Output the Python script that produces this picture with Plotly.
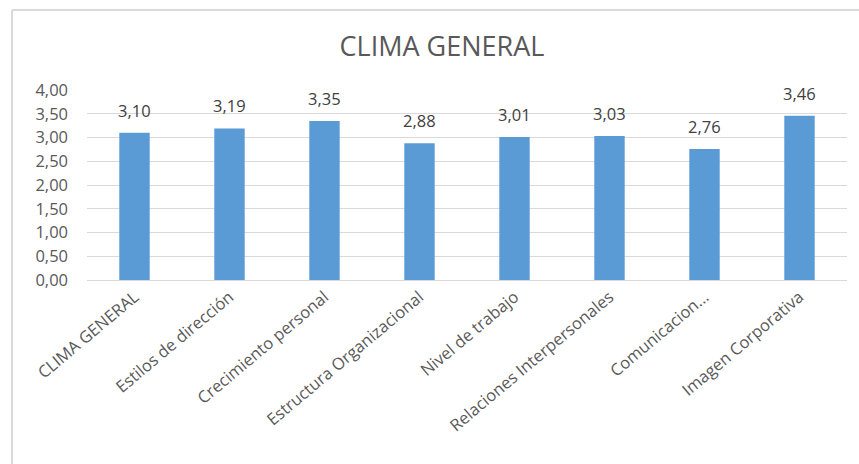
import plotly.graph_objects as go

categories = ["CLIMA GENERAL", "Estilos de dirección", "Crecimiento personal",
              "Estructura Organizacional", "Nivel de trabajo",
              "Relaciones Interpersonales", "Comunicacion...", "Imagen Corporativa"]
values = [3.10, 3.19, 3.35, 2.88, 3.01, 3.03, 2.76, 3.46]
y_ticks = [0, 0.5, 1, 1.5, 2, 2.5, 3, 3.5, 4]

W, H = 859, 464
ml, mr, mt, mb = 87, 12, 90, 184
pw, ph = W - ml - mr, H - mt - mb

font_family = "Open Sans, Lato, sans-serif"

fig = go.Figure(go.Bar(
    x=categories, y=values,
    marker=dict(color="#5b9bd5", line=dict(width=0)),
    width=0.32,
    hoverinfo="x+y",
))

for c, v in zip(categories, values):
    fig.add_annotation(x=c, y=v, xref="x", yref="y", text=f"{v:.2f}".replace(".", ","),
                       showarrow=False, yanchor="bottom", yshift=9,
                       font=dict(size=16.5, color="#404040", family=font_family))

bx = (12 - ml) / pw
by = 1 + (mt - 10) / ph
byb = -(mb) / ph
bxr = 1 + mr / pw

fig.update_layout(
    width=W, height=H,
    margin=dict(l=ml, r=mr, t=mt, b=mb),
    separators=",.",
    paper_bgcolor="white", plot_bgcolor="white",
    font=dict(family=font_family, color="#595959"),
    title=dict(text="CLIMA GENERAL", x=(442 - ml) / pw, xref="paper", xanchor="center",
               y=1 - 47 / H, yanchor="middle",
               font=dict(size=27, color="#595959", family=font_family)),
    showlegend=False,
    xaxis=dict(tickangle=-40, tickfont=dict(size=16.5, color="#595959"),
               showline=True, linecolor="#d9d9d9", linewidth=1, ticks=""),
    yaxis=dict(range=[0, 4], tickvals=y_ticks, tickformat=".2f",
               tickfont=dict(size=16.5, color="#595959"),
               showgrid=True, gridcolor="#d9d9d9", gridwidth=1,
               zeroline=False, ticks="", ticklabelstandoff=18),
    shapes=[
        dict(type="line", xref="paper", yref="paper", x0=bx, x1=bx, y0=byb, y1=by,
             line=dict(color="#d9d9d9", width=2)),
        dict(type="line", xref="paper", yref="paper", x0=bx, x1=bxr, y0=by, y1=by,
             line=dict(color="#d9d9d9", width=2)),
    ],
)

fig.write_html("out.html")
